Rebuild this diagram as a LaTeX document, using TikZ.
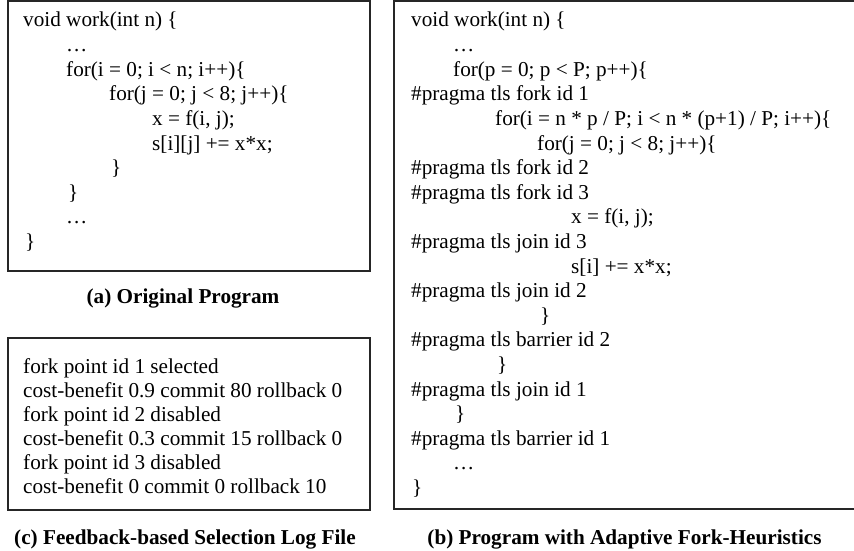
\documentclass[tikz,border=0pt]{standalone}
\usepackage{fontspec}
\setmainfont{Liberation Serif}
\begin{document}
\begin{tikzpicture}[x=1pt,y=-1pt,
  box/.style={draw=black!85,line width=1.6pt},
  code/.style={anchor=base west,inner sep=0pt,font=\fontsize{21.2}{24.6}\selectfont},
  captext/.style={anchor=base,inner sep=0pt,font=\fontsize{21.2}{24.6}\selectfont\bfseries}]
\useasboundingbox (0,0) rectangle (854,551);
% boxes
\draw[box] (8,1) rectangle (370,271);
\draw[box] (8,338) rectangle (370,510);
\draw[box] (394,1) rectangle (857,509);
% (a) original program
\node[code] (a0) at (23,27.0)  {void work(int n) \{};
\node[code] (a1) at (66,51.6)  {…};
\node[code] (a2) at (66,76.2)  {for(i = 0; i < n; i++)\{};
\node[code] (a3) at (109,100.8) {for(j = 0; j < 8; j++)\{};
\node[code] (a4) at (152,125.4) {x = f(i, j);};
\node[code] (a5) at (152,150.0) {s[i][j] += x*x;};
\node[code] (a6) at (111,174.6) {\}};
\node[code] (a7) at (68,199.2) {\}};
\node[code] (a8) at (66,223.8) {…};
\node[code] (a9) at (25,248.4) {\}};
\node[captext] (capa) at (183,303) {(a) Original Program};
% (c) log file
\node[code] (c0) at (23,373.0) {fork point id 1 selected};
\node[code] (c1) at (23,397.0) {cost-benefit 0.9 commit 80 rollback 0};
\node[code] (c2) at (23,421.0) {fork point id 2 disabled};
\node[code] (c3) at (23,445.0) {cost-benefit 0.3 commit 15 rollback 0};
\node[code] (c4) at (23,469.0) {fork point id 3 disabled};
\node[code] (c5) at (23,493.0) {cost-benefit 0 commit 0 rollback 10};
\node[captext] (capc) at (185,544) {(c) Feedback-based Selection Log File};
% (b) adaptive program
\node[code] (b0)  at (411,27.0)  {void work(int n) \{};
\node[code] (b1)  at (453,51.6)  {…};
\node[code] (b2)  at (453,76.2)  {for(p = 0; p < P; p++)\{};
\node[code] (b3)  at (411,100.8) {\#pragma tls fork id 1};
\node[code] (b4)  at (495,125.4) {for(i = n * p / P; i < n * (p+1) / P; i++)\{};
\node[code] (b5)  at (537,150.0) {for(j = 0; j < 8; j++)\{};
\node[code] (b6)  at (411,174.6) {\#pragma tls fork id 2};
\node[code] (b7)  at (411,199.2) {\#pragma tls fork id 3};
\node[code] (b8)  at (571,223.8) {x = f(i, j);};
\node[code] (b9)  at (411,248.4) {\#pragma tls join id 3};
\node[code] (b10) at (571,273.0) {s[i] += x*x;};
\node[code] (b11) at (411,297.6) {\#pragma tls join id 2};
\node[code] (b12) at (540,322.2) {\}};
\node[code] (b13) at (411,346.8) {\#pragma tls barrier id 2};
\node[code] (b14) at (497,371.4) {\}};
\node[code] (b15) at (411,396.0) {\#pragma tls join id 1};
\node[code] (b16) at (455,420.6) {\}};
\node[code] (b17) at (411,445.2) {\#pragma tls barrier id 1};
\node[code] (b18) at (453,469.8) {…};
\node[code] (b19) at (412,494.4) {\}};
\node[captext] (capb) at (624.5,544) {(b) Program with Adaptive Fork-Heuristics};
\end{tikzpicture}
\end{document}
